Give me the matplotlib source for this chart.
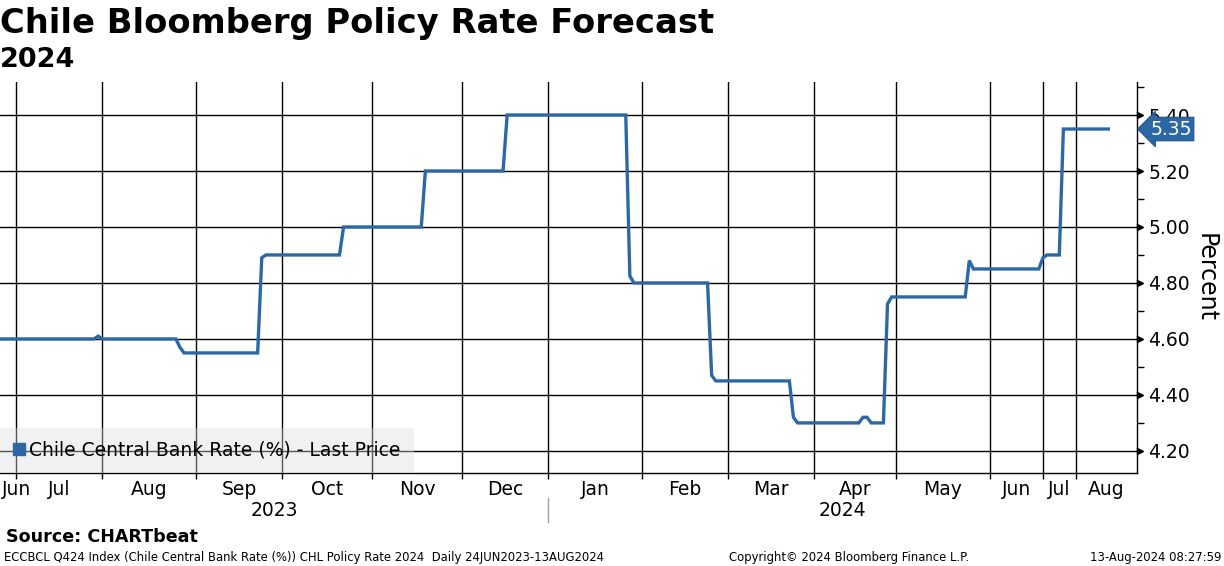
import matplotlib
matplotlib.use('Agg')
import matplotlib.pyplot as plt
import numpy as np
from matplotlib.lines import Line2D

# month axis: number of daily observations shown per month (Jun 2023 .. Aug 2024)
month_names = ['Jun', 'Jul', 'Aug', 'Sep', 'Oct', 'Nov', 'Dec',
               'Jan', 'Feb', 'Mar', 'Apr', 'May', 'Jun', 'Jul', 'Aug']
month_obs = [4, 21, 23, 21, 22, 22, 21, 23, 21, 21, 20, 23, 13, 8, 9]
years = ['2023', '2024']
year_start_month = [0, 7]

# forecast breakpoints (observation index, rate %)
obs_idx = [0, 23, 24, 25, 43, 44, 45, 63, 64, 65, 83, 84, 103, 104, 123, 124,
           153, 154, 155, 173, 174, 175, 193, 194, 195, 210, 211, 212, 213,
           216, 217, 218, 236, 237, 238, 254, 255, 256, 259, 260, 271]
rate = [4.60, 4.60, 4.61, 4.60, 4.60, 4.57, 4.55, 4.55, 4.89, 4.90, 4.90, 5.00,
        5.00, 5.20, 5.20, 5.40, 5.40, 4.825, 4.80, 4.80, 4.47, 4.45, 4.45, 4.32,
        4.30, 4.30, 4.32, 4.32, 4.30, 4.30, 4.725, 4.75, 4.75, 4.88, 4.85, 4.85,
        4.89, 4.90, 4.90, 5.35, 5.35]
last_value = 5.35
y_ticks = [4.20, 4.40, 4.60, 4.80, 5.00, 5.20, 5.40]

blue = '#2c68a6'
plt.rcParams['font.family'] = 'DejaVu Sans'

fig = plt.figure(figsize=(12.24, 5.66), dpi=100)
ax = fig.add_axes([0, 1 - 473 / 566, 1137 / 1224, 391 / 566])

bounds = np.concatenate([[0], np.cumsum(month_obs)])
x_end = bounds[-1] + 6
ax.set_xlim(0, x_end)
ax.set_ylim(4.121, 5.518)

# grid
for b in bounds[1:-1]:
    ax.axvline(b, color='black', lw=1.0, zorder=1)
for t in y_ticks:
    ax.axhline(t, color='black', lw=1.0, zorder=1)

ax.plot(obs_idx, rate, color=blue, lw=2.4, zorder=3, solid_joinstyle='miter')

# spines
for s in ['top', 'left']:
    ax.spines[s].set_visible(False)
ax.spines['right'].set_linewidth(1.0)
ax.spines['bottom'].set_linewidth(1.0)

# x axis: ticks at month boundaries, labels centered in months
ax.set_xticks(bounds[1:-1])
ax.set_xticklabels([])
ax.tick_params(axis='x', which='major', length=4, width=1, direction='out')
centers = [(bounds[i] + bounds[i + 1]) / 2 for i in range(len(month_names))]
centers[0] = 0.4
centers[-1] = (bounds[-2] + x_end) / 2
ax.set_xticks(centers, minor=True)
ax.set_xticklabels(month_names, minor=True, fontsize=13.5)
ax.tick_params(axis='x', which='minor', length=0, pad=5)
ax.get_xticklabels(minor=True)[0].set_ha('left')

# year labels and separator
trans = ax.get_xaxis_transform()
year_edges = [bounds[m] for m in year_start_month] + [x_end]
for i, yr in enumerate(years):
    ax.text((year_edges[i] + year_edges[i + 1]) / 2, -0.097, yr, transform=trans,
            ha='center', va='center', fontsize=13.5)
ax.plot([year_edges[1], year_edges[1]], [-0.064, -0.125], transform=trans,
        color='#a0a0a0', lw=1, clip_on=False)

# y axis on the right
ax.yaxis.tick_right()
ax.set_yticks(y_ticks)
ax.set_yticklabels([f'{t:.2f}' for t in y_ticks], fontsize=13.5)
ax.set_yticks(np.arange(4.30, 5.55, 0.2), minor=True)
ax.tick_params(axis='y', which='major', length=0, pad=8)
ax.tick_params(axis='y', which='minor', length=5, width=1, direction='out')
ytrans = ax.get_yaxis_transform()
ax.plot([1.003] * len(y_ticks), y_ticks, marker='>', ls='none', color='black',
        markersize=5, transform=ytrans, clip_on=False)
ax.yaxis.set_label_position('right')
ax.set_ylabel('Percent', fontsize=17, rotation=-90, labelpad=20)

# last value tag
ax.text(1.0115, last_value, f'{last_value:.2f}', transform=ytrans, ha='left',
        va='center', color='white', fontsize=13.5, zorder=5,
        bbox=dict(boxstyle='larrow,pad=0.12', fc=blue, ec='#1c4f84', lw=0.8),
        clip_on=False)

# legend
handle = Line2D([], [], marker='s', ls='none', color=blue, markersize=9)
leg = ax.legend([handle], ['Chile Central Bank Rate (%) - Last Price'],
                loc='lower left', bbox_to_anchor=(0, 0), borderaxespad=0,
                fontsize=13.5, frameon=True, fancybox=False, handlelength=0.6,
                handletextpad=0.25, borderpad=0.7)
leg.get_frame().set_facecolor('#dcdcdc')
leg.get_frame().set_edgecolor('none')
leg.get_frame().set_alpha(0.4)
leg.set_zorder(4)

# titles and footer
fig.text(0.0, 1 - 24 / 566, 'Chile Bloomberg Policy Rate Forecast', fontsize=24.3,
         fontweight='bold', ha='left', va='center')
fig.text(0.0, 1 - 60 / 566, '2024', fontsize=19.5, fontweight='bold',
         ha='left', va='center')
fig.text(6 / 1224, 1 - 537 / 566, 'Source: CHARTbeat', fontsize=12.6,
         fontweight='bold', ha='left', va='center')
fig.text(4 / 1224, 1 - 557 / 566,
         'ECCBCL Q424 Index (Chile Central Bank Rate (%)) CHL Policy Rate 2024  Daily 24JUN2023-13AUG2024',
         fontsize=8.4, ha='left', va='center')
fig.text(729 / 1224, 1 - 557 / 566, 'Copyright\u00a9 2024 Bloomberg Finance L.P.',
         fontsize=8.4, ha='left', va='center')
fig.text(1222 / 1224, 1 - 557 / 566, '13-Aug-2024 08:27:59', fontsize=8.4,
         ha='right', va='center')

fig.savefig('out.png', dpi=100)
